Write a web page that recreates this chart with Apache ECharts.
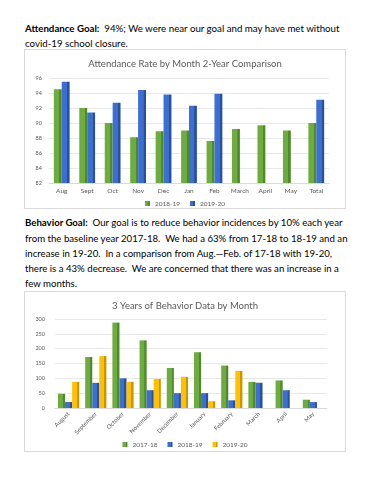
<!DOCTYPE html>
<html><head><meta charset="utf-8">
<script src="https://cdn.jsdelivr.net/npm/echarts@6/dist/echarts.min.js"></script>
<style>
html,body{margin:0;padding:0;background:#fff;width:370px;height:480px;overflow:hidden;}
.ln{position:absolute;left:25px;white-space:nowrap;font-family:Lato,"Open Sans",sans-serif;color:#000;font-size:11px;line-height:14px;}
.box{position:absolute;left:24px;width:320px;border:1px solid #d9d9d9;background:#fff;}
</style></head>
<body>
<div class="ln" id="a1" style="top:21px"><b>Attendance Goal:</b>&nbsp; 94%; We were near our goal and may have met without</div>
<div class="ln" id="a2" style="top:36px">covid-19 school closure.</div>
<div class="box" id="c1" style="top:49px;height:158px;"></div>
<div class="ln" id="b1" style="top:215px"><b>Behavior Goal:</b>&nbsp; Our goal is to reduce behavior incidences by 10% each year</div>
<div class="ln" id="b2" style="top:231px">from the baseline year 2017-18.&nbsp; We had a 63% from 17-18 to 18-19 and an</div>
<div class="ln" id="b3" style="top:246px">increase in 19-20.&nbsp; In a comparison from Aug.—Feb. of 17-18 with 19-20,</div>
<div class="ln" id="b4" style="top:261px">there is a 43% decrease.&nbsp; We are concerned that there was an increase in a</div>
<div class="ln" id="b5" style="top:276px">few months.</div>
<div class="box" id="c2" style="top:291px;height:159px;"></div>
<script>
// ---- data ----
const attCategories = ['Aug','Sept','Oct','Nov','Dec','Jan','Feb','March','April','May','Total'];
const att2018_19 = [94.5, 92.0, 90.0, 88.1, 88.9, 89.0, 87.6, 89.2, 89.7, 89.0, 90.0];
const att2019_20 = [95.5, 91.4, 92.7, 94.4, 93.8, 92.3, 93.9, null, null, null, 93.1];
const attYTicks = [82, 84, 86, 88, 90, 92, 94, 96];

const behCategories = ['August','September','October','November','December','January','February','March','April','May'];
const beh2017_18 = [48, 172, 288, 228, 135, 188, 143, 88, 93, 28];
const beh2018_19 = [20, 85, 100, 60, 50, 50, 26, 85, 60, 20];
const beh2019_20 = [88, 175, 88, 98, 105, 23, 125, null, null, null];
const behYTicks = [0, 50, 100, 150, 200, 250, 300];

// ---- fit paragraph text ----
function fit(id, target){
  const el=document.getElementById(id);
  const w=el.getBoundingClientRect().width;
  return 11*target/w;
}
const fs1=fit('a1',315);
['a1','a2'].forEach(i=>document.getElementById(i).style.fontSize=fs1+'px');
const fs2=fit('b1',318);
['b1','b2','b3','b4','b5'].forEach(i=>document.getElementById(i).style.fontSize=fs2+'px');

function grad(main, dark){
  return new echarts.graphic.LinearGradient(0,0,1,0,[
    {offset:0,color:main},{offset:0.68,color:main},{offset:0.7,color:dark},{offset:1,color:dark}]);
}
const GREEN=grad('#6fac3f','#4e8a28');
const BLUE=grad('#3c6fd1','#27509f');
const YEL=grad('#ffc000','#c99600');
const txt='#595959';
const ff='Lato, "Open Sans", sans-serif';

const ch1=echarts.init(document.getElementById('c1'),null,{renderer:'canvas'});
ch1.setOption({
  animation:false,
  textStyle:{fontFamily:ff},
  title:{text:'Attendance Rate by Month 2-Year Comparison',left:'center',top:4,
    textStyle:{fontSize:9.5,fontWeight:'normal',color:txt,fontFamily:ff}},
  legend:{bottom:1,left:'center',padding:0,itemWidth:5,itemHeight:5,itemGap:10,icon:'rect',
    textStyle:{fontSize:6.5,color:txt},data:['2018-19','2019-20']},
  grid:{left:24,right:16,top:28,bottom:25},
  xAxis:{type:'category',data:attCategories,
    axisLine:{lineStyle:{color:'#d9d9d9'}},axisTick:{show:false},
    axisLabel:{fontSize:6.5,color:txt,margin:4,interval:0}},
  yAxis:{type:'value',min:attYTicks[0],max:attYTicks[attYTicks.length-1],interval:2,
    axisLine:{show:false},axisTick:{show:false},
    splitLine:{lineStyle:{color:'#e8e8e8'}},
    axisLabel:{fontSize:5.5,color:txt,margin:7}},
  series:[
    {name:'2018-19',type:'bar',data:att2018_19,barGap:'0%',barCategoryGap:'38%',
      itemStyle:{color:GREEN}},
    {name:'2019-20',type:'bar',data:att2019_20,
      itemStyle:{color:BLUE}}
  ]
});

const ch2=echarts.init(document.getElementById('c2'),null,{renderer:'canvas'});
ch2.setOption({
  animation:false,
  textStyle:{fontFamily:ff},
  title:{text:'3 Years of Behavior Data by Month',left:'center',top:4,
    textStyle:{fontSize:9.5,fontWeight:'normal',color:txt,fontFamily:ff}},
  legend:{bottom:3,left:'center',padding:0,itemWidth:5,itemHeight:5,itemGap:10,icon:'rect',
    textStyle:{fontSize:6.5,color:txt},data:['2017-18','2018-19','2019-20']},
  grid:{left:30,right:18,top:27,bottom:43},
  xAxis:{type:'category',data:behCategories,
    axisLine:{lineStyle:{color:'#d9d9d9'}},axisTick:{show:false},
    axisLabel:{fontSize:6,color:txt,margin:5,rotate:45,interval:0}},
  yAxis:{type:'value',min:behYTicks[0],max:behYTicks[behYTicks.length-1],interval:50,
    axisLine:{show:false},axisTick:{show:false},
    splitLine:{lineStyle:{color:'#e8e8e8'}},
    axisLabel:{fontSize:5.5,color:txt,margin:10}},
  series:[
    {name:'2017-18',type:'bar',data:beh2017_18,barGap:'0%',barCategoryGap:'22%',itemStyle:{color:GREEN}},
    {name:'2018-19',type:'bar',data:beh2018_19,itemStyle:{color:BLUE}},
    {name:'2019-20',type:'bar',data:beh2019_20,itemStyle:{color:YEL}}
  ]
});
</script>
</body></html>
